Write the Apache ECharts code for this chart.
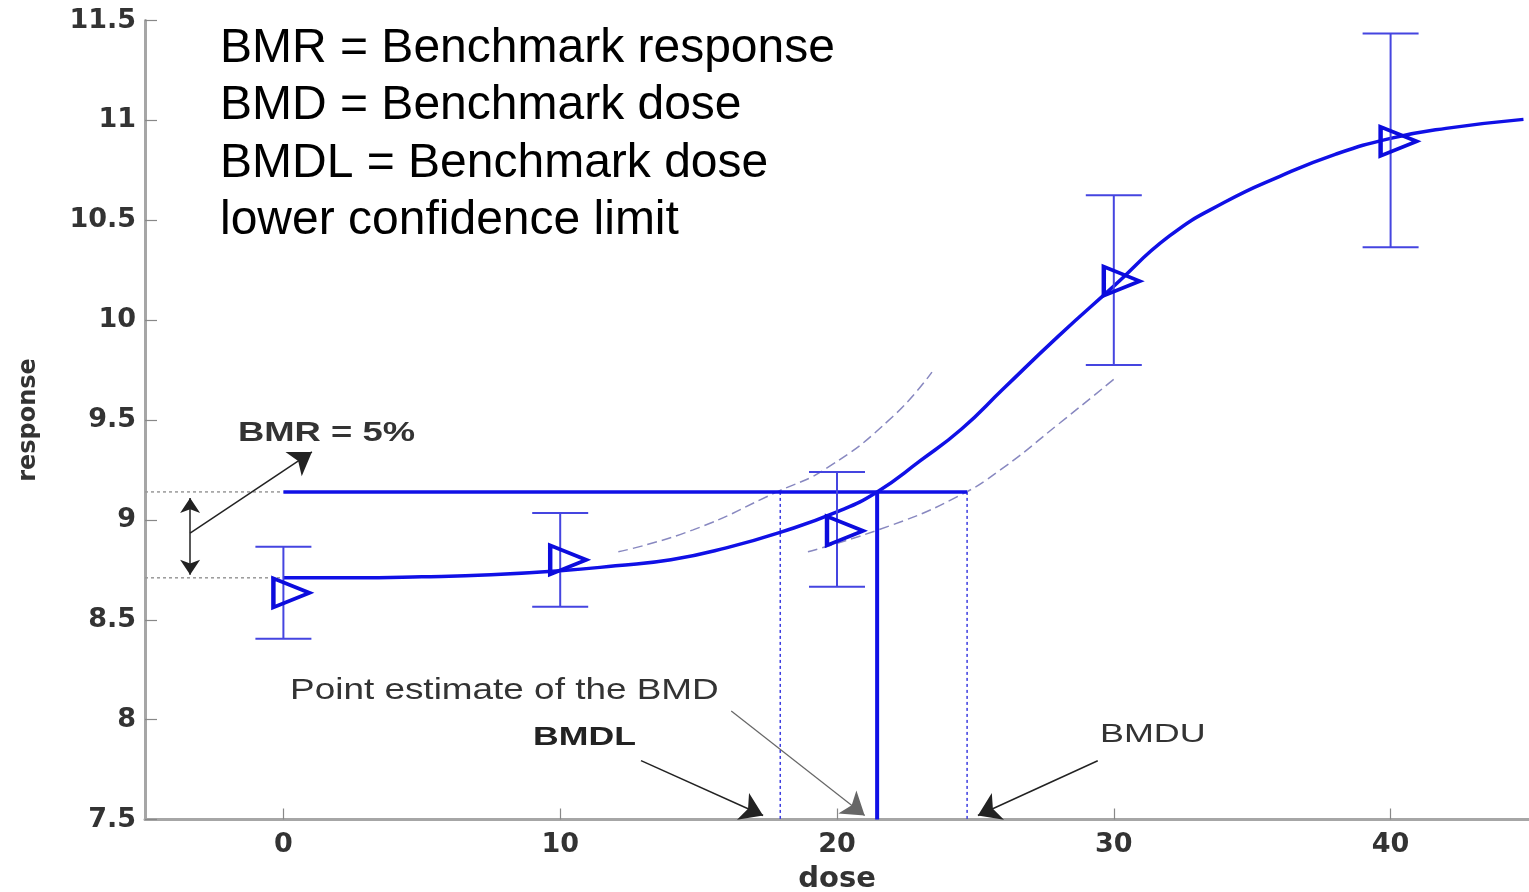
<!DOCTYPE html>
<html><head><meta charset="utf-8">
<script src="https://cdn.jsdelivr.net/npm/echarts@6/dist/echarts.min.js"></script>
<style>html,body{margin:0;padding:0;background:#fff}#c{width:1529px;height:892px}</style>
</head><body><div id="c"></div>
<script>
// ---- data ----
const doses      = [0, 10, 20, 30, 40];
const meanResp   = [8.635, 8.80, 8.945, 10.195, 10.895];
const errLow     = [8.405, 8.565, 8.665, 9.775, 10.365];
const errHigh    = [8.865, 9.035, 9.24, 10.625, 11.435];
const fitDose    = [0, 2.5, 5, 7.5, 10, 12, 14, 16, 18, 20, 21.45, 23, 24.5, 26, 28, 30, 32, 34, 36, 38, 40, 42, 44.8];
const fitResp    = [8.71, 8.71, 8.715, 8.725, 8.745, 8.77, 8.80, 8.86, 8.94, 9.04, 9.14, 9.295, 9.455, 9.655, 9.92, 10.17, 10.42, 10.59, 10.72, 10.83, 10.91, 10.96, 11.005];
const upperDose  = [12.1, 14.8, 17.83, 19.64, 22.0, 23.43];
const upperResp  = [8.84, 8.95, 9.14, 9.26, 9.515, 9.74];
const lowerDose  = [18.95, 22.0, 24.33, 25.9, 28.05, 30.1];
const lowerResp  = [8.84, 8.975, 9.115, 9.25, 9.485, 9.715];
const bmrLevel   = 9.14;
const baseLevel  = 8.71;
const bmd  = 21.45;
const bmdl = 17.95;
const bmdu = 24.7;
const xTickValues = [0, 10, 20, 30, 40];
const legendLines = ['BMR = Benchmark response', 'BMD = Benchmark dose', 'BMDL = Benchmark dose', 'lower confidence limit'];

const zip = (a, b) => a.map((v, i) => [v, b[i]]);
const chart = echarts.init(document.getElementById('c'));
const labelFont = {fontFamily: 'DejaVu Sans', fontWeight: 'bold', fontSize: 27, color: '#333'};
const axisGray = '#a6a6a6';

chart.setOption({
  animation: false,
  backgroundColor: '#fff',
  grid: {left: 145, right: 0, top: 20.5, bottom: 72.5, outerBoundsMode: 'none', containLabel: false},
  xAxis: {
    type: 'value', min: -5, max: 45,
    name: 'dose', nameLocation: 'middle', nameGap: 45,
    nameTextStyle: {fontFamily: 'DejaVu Sans', fontWeight: 'bold', fontSize: 29, color: '#333'},
    axisLine: {show: true, onZero: false, lineStyle: {color: axisGray, width: 3}},
    axisTick: {show: true, inside: true, length: 11, lineStyle: {color: '#888', width: 1.2}, customValues: xTickValues},
    axisLabel: Object.assign({margin: 12, customValues: xTickValues}, labelFont),
    splitLine: {show: false}
  },
  yAxis: {
    type: 'value', min: 7.5, max: 11.5, interval: 0.5,
    name: 'response', nameLocation: 'middle', nameGap: 104,
    nameTextStyle: {fontFamily: 'DejaVu Sans', fontWeight: 'bold', fontSize: 24, color: '#333'},
    axisLine: {show: true, onZero: false, lineStyle: {color: axisGray, width: 3}},
    axisTick: {show: true, inside: true, length: 12, lineStyle: {color: '#888', width: 1.2}},
    axisLabel: Object.assign({margin: 9}, labelFont),
    splitLine: {show: false}
  },
  series: [
    {type: 'line', data: [[-5, bmrLevel], [0, bmrLevel]], showSymbol: false, lineStyle: {color: '#999', width: 1.5, type: [3, 3]}, z: 1},
    {type: 'line', data: [[-5, baseLevel], [0, baseLevel]], showSymbol: false, lineStyle: {color: '#999', width: 1.5, type: [3, 3]}, z: 1},
    {type: 'line', data: zip(upperDose, upperResp), smooth: 0.5, showSymbol: false, lineStyle: {color: '#8888c0', width: 1.5, type: [10, 5]}, z: 2},
    {type: 'line', data: zip(lowerDose, lowerResp), smooth: 0.5, showSymbol: false, lineStyle: {color: '#8888c0', width: 1.5, type: [10, 5]}, z: 2},
    {type: 'line', data: [[bmdl, bmrLevel], [bmdl, 7.5]], showSymbol: false, lineStyle: {color: '#3c3ce0', width: 1.5, type: [3, 3]}, z: 2},
    {type: 'line', data: [[bmdu, bmrLevel], [bmdu, 7.5]], showSymbol: false, lineStyle: {color: '#3c3ce0', width: 1.5, type: [3, 3]}, z: 2},
    {type: 'line', data: [[0, bmrLevel], [bmdu, bmrLevel]], showSymbol: false, lineStyle: {color: '#1010e6', width: 3.5}, z: 3,
      markLine: {
        silent: true, animation: false, label: {show: false},
        lineStyle: {color: '#222', width: 1.5, type: 'solid'},
        data: [
          [{coord: [-3.37, 8.934], symbol: 'none'}, {coord: [1.03, 9.34], symbol: 'arrow', symbolSize: 22}],
          [{coord: [-3.37, 8.725], symbol: 'arrow', symbolSize: 15}, {coord: [-3.37, 9.11], symbol: 'arrow', symbolSize: 15}],
          [{coord: [16.18, 8.043], symbol: 'none', lineStyle: {color: '#666', width: 1.2}}, {coord: [21.0, 7.52], symbol: 'arrow', symbolSize: 22, itemStyle: {color: '#222'}}],
          [{coord: [12.92, 7.795], symbol: 'none'}, {coord: [17.33, 7.52], symbol: 'arrow', symbolSize: 22}],
          [{coord: [29.42, 7.794], symbol: 'none'}, {coord: [25.09, 7.52], symbol: 'arrow', symbolSize: 22}]
        ]
      }},
    {type: 'line', data: [[bmd, bmrLevel], [bmd, 7.5]], showSymbol: false, lineStyle: {color: '#1010e6', width: 4}, z: 3},
    {type: 'line', data: zip(fitDose, fitResp), smooth: 0.5, showSymbol: false, lineStyle: {color: '#1010e6', width: 3.5}, z: 4},
    {type: 'custom', data: doses.map((d, i) => [d, errLow[i], errHigh[i]]), z: 5,
      renderItem: function (params, api) {
        const x = api.value(0);
        const pLo = api.coord([x, api.value(1)]);
        const pHi = api.coord([x, api.value(2)]);
        const hw = 28;
        const st = {stroke: '#4545e0', lineWidth: 2};
        return {type: 'group', children: [
          {type: 'line', shape: {x1: pLo[0], y1: pLo[1], x2: pHi[0], y2: pHi[1]}, style: st},
          {type: 'line', shape: {x1: pLo[0] - hw, y1: pLo[1], x2: pLo[0] + hw, y2: pLo[1]}, style: st},
          {type: 'line', shape: {x1: pHi[0] - hw, y1: pHi[1], x2: pHi[0] + hw, y2: pHi[1]}, style: st}
        ]};
      }},
    {type: 'scatter', data: zip(doses, meanResp), symbol: 'triangle', symbolRotate: -90, symbolSize: [29, 36], symbolOffset: [8, 0],
      itemStyle: {color: 'rgba(255,255,255,0)', borderColor: '#0c0cdd', borderWidth: 4, opacity: 1}, z: 6}
  ]
});

function px(x, y) { return chart.convertToPixel({gridIndex: 0}, [x, y]); }
const pBmr = px(-1.64, 9.435), pPoint = px(0.24, 8.143), pBmdl = px(9.02, 7.908), pBmdu = px(29.5, 7.923);
chart.setOption({
  graphic: [
    {type: 'text', x: 220, y: 20, style: {text: legendLines.join('\n'), fontFamily: 'Liberation Sans', fontSize: 48, lineHeight: 57.5, fill: '#000', textVerticalAlign: 'top'}},
    {type: 'text', x: pBmr[0], y: pBmr[1], scaleX: 1.3, style: {text: 'BMR = 5%', fontFamily: 'Liberation Sans', fontWeight: 'bold', fontSize: 28, fill: '#333', textVerticalAlign: 'middle'}},
    {type: 'text', x: pPoint[0], y: pPoint[1], scaleX: 1.23, style: {text: 'Point estimate of the BMD', fontFamily: 'Liberation Sans', fontSize: 30, fill: '#333', textVerticalAlign: 'middle'}},
    {type: 'text', x: pBmdl[0], y: pBmdl[1], scaleX: 1.37, style: {text: 'BMDL', fontFamily: 'Liberation Sans', fontWeight: 'bold', fontSize: 26, fill: '#222', textVerticalAlign: 'middle'}},
    {type: 'text', x: pBmdu[0], y: pBmdu[1], scaleX: 1.38, style: {text: 'BMDU', fontFamily: 'Liberation Sans', fontSize: 26, fill: '#333', textVerticalAlign: 'middle'}}
  ]
});
</script>
</body></html>
